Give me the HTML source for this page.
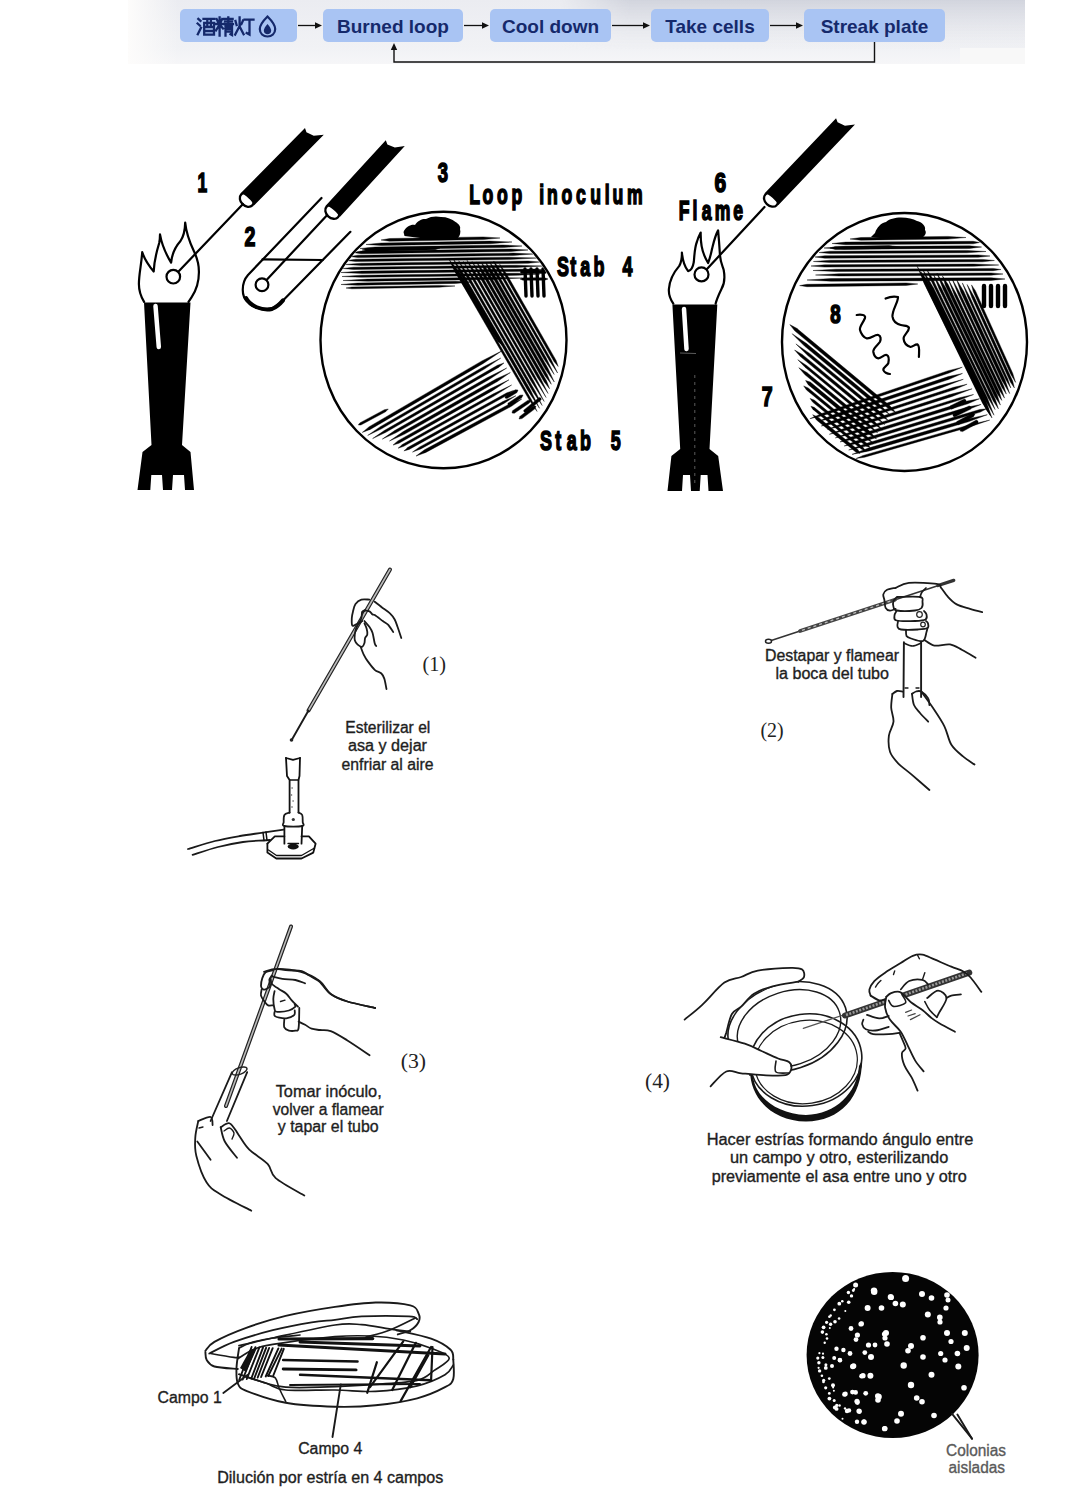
<!DOCTYPE html>
<html><head><meta charset="utf-8">
<style>
html,body{margin:0;padding:0;background:#fff;}
body{width:1080px;height:1489px;overflow:hidden;position:relative;font-family:"Liberation Sans",sans-serif;}
svg{position:absolute;left:0;top:0;display:block;}
.pt{font-family:"Liberation Sans",sans-serif;font-weight:bold;font-size:19px;fill:#15296b;}
.ln{fill:none;stroke:#000;stroke-width:2.2;stroke-linecap:round;stroke-linejoin:round;}
.lb{stroke:#000;stroke-width:1.6;font-family:"Liberation Sans",sans-serif;font-weight:bold;fill:#000;}
.sp{stroke-width:0.3;font-family:"Liberation Sans",sans-serif;fill:#222;}
.sr{font-family:"Liberation Serif",serif;fill:#222;}
.th{fill:none;stroke:#222;stroke-width:1.5;stroke-linecap:round;stroke-linejoin:round;}
</style></head><body>
<svg width="1080" height="1489" viewBox="0 0 1080 1489">
<defs>
<linearGradient id="hg" x1="0" y1="0" x2="0" y2="1">
<stop offset="0" stop-color="#ebecf1"/>
<stop offset="0.75" stop-color="#f1f2f5"/>
<stop offset="1" stop-color="#f6f6f8"/>
</linearGradient>
<linearGradient id="hg2" x1="0" y1="0" x2="0" y2="1">
<stop offset="0" stop-color="#cdd0da" stop-opacity="0.85"/>
<stop offset="1" stop-color="#e6e7ec" stop-opacity="0"/>
</linearGradient>
<linearGradient id="hg3" x1="0" y1="0" x2="1" y2="0">
<stop offset="0" stop-color="#fdfcfb"/>
<stop offset="1" stop-color="#fdfcfb" stop-opacity="0"/>
</linearGradient>
<linearGradient id="hfade" x1="0" y1="0" x2="1" y2="0">
<stop offset="0" stop-color="#fff" stop-opacity="0"/>
<stop offset="0.15" stop-color="#fff" stop-opacity="1"/>
<stop offset="1" stop-color="#fff" stop-opacity="1"/>
</linearGradient>
</defs>
<rect x="128" y="0" width="897" height="64" fill="url(#hg)"/>
<mask id="m2"><rect x="560" y="0" width="465" height="50" fill="url(#hfade)"/></mask>
<rect x="560" y="0" width="465" height="50" fill="url(#hg2)" mask="url(#m2)"/>
<rect x="128" y="0" width="50" height="64" fill="url(#hg3)"/>
<rect x="960" y="48" width="65" height="16" fill="#f8f8f8"/>
<rect x="180" y="9" width="117" height="33" rx="5" fill="#a9c4f3"/>
<rect x="323" y="9" width="140" height="33" rx="5" fill="#a9c4f3"/>
<rect x="490" y="9" width="121" height="33" rx="5" fill="#a9c4f3"/>
<rect x="651" y="9" width="118" height="33" rx="5" fill="#a9c4f3"/>
<rect x="804" y="9" width="141" height="33" rx="5" fill="#a9c4f3"/>
<text x="393" y="32.5" class="pt" text-anchor="middle">Burned loop</text>
<text x="550.5" y="32.5" class="pt" text-anchor="middle">Cool down</text>
<text x="710" y="32.5" class="pt" text-anchor="middle">Take cells</text>
<text x="874.5" y="32.5" class="pt" text-anchor="middle">Streak plate</text>
<line x1="298" y1="25.5" x2="316" y2="25.5" stroke="#111" stroke-width="1.3"/>
<polygon points="322,25.5 315,22.3 315,28.7" fill="#111"/>
<line x1="464" y1="25.5" x2="483" y2="25.5" stroke="#111" stroke-width="1.3"/>
<polygon points="489,25.5 482,22.3 482,28.7" fill="#111"/>
<line x1="612" y1="25.5" x2="644" y2="25.5" stroke="#111" stroke-width="1.3"/>
<polygon points="650,25.5 643,22.3 643,28.7" fill="#111"/>
<line x1="770" y1="25.5" x2="797" y2="25.5" stroke="#111" stroke-width="1.3"/>
<polygon points="803,25.5 796,22.3 796,28.7" fill="#111"/>
<polyline points="874.5,42 874.5,62 394,62 394,49" fill="none" stroke="#111" stroke-width="1.4"/>
<polygon points="394,43 390.8,50 397.2,50" fill="#111"/>
<g fill="none" stroke="#15296b" stroke-width="2.3" stroke-linecap="square"><path d="M198.3,18.8l2.2,2 M197.6,23.5l2.2,2 M197.8,34.2l3.2,-6.5 M203.5,18.8h11 M207.3,18.8v8 M210.9,18.8v8 M204.2,22.8h9.8v11.8h-9.8z M204.5,27h9.5 M204.5,31h9.5"/><path d="M216.6,19l1.2,2.6 M222.2,19l-1.2,2.6 M216,24h7.2 M219.6,17.5v18 M219.6,24.5l-3.6,5.8 M219.6,24.5l3.4,4 M224,19h8.6 M228.3,17.5v6.5 M225,21.6h7 M224,24.2h9 M225.5,26.5v9 M225.5,26.5h6.5v8.5l-1.5,-0.8 M225.5,29h6.5 M225.5,31.6h6.5"/><path d="M235.5,21l1.1,4 M243,20.5l-1.6,3.6 M239.6,17.5v8.5 M239.6,26l-4.4,8.6 M239.6,26.5l4,7.8 M244.5,19.6h9 M249.5,19.6v15l-2.8,-1.6"/></g>
<path d="M267.5,16.5 C262,22 259.8,26 259.8,29 C259.8,33.5 263.2,36.5 267.5,36.5 C271.8,36.5 275.2,33.5 275.2,29 C275.2,26 273,22 267.5,16.5z" fill="none" stroke="#15296b" stroke-width="2.2"/>
<path d="M267.5,24 C265,27 263.8,29 263.8,30.8 C263.8,33 265.5,34.2 267.5,34.2 C269.5,34.2 271.2,33 271.2,30.8 C271.2,29 270,27 267.5,24z" fill="#15296b"/>
<g transform="translate(246.8,199.9) rotate(-45.4)"><ellipse cx="0" cy="0" rx="6" ry="7.8" fill="#fff" stroke="#000" stroke-width="2.3"/><path d="M0,-9 L92,-9 L90,-5 L92.7,2.5999999999999996 L100.5,9 L1,9 C3,6 3,-6 0,-9z" fill="#000"/></g>
<g transform="translate(332.3,211.9) rotate(-47.5)"><ellipse cx="0" cy="0" rx="6" ry="7.8" fill="#fff" stroke="#000" stroke-width="2.3"/><path d="M0,-9 L89,-9 L87,-5 L89.7,2.5999999999999996 L97.5,9 L1,9 C3,6 3,-6 0,-9z" fill="#000"/></g>
<g transform="translate(771,199.8) rotate(-46.5)"><ellipse cx="0" cy="0" rx="6" ry="7.8" fill="#fff" stroke="#000" stroke-width="2.3"/><path d="M0,-9 L104,-9 L102,-5 L104.7,2.5999999999999996 L112.5,9 L1,9 C3,6 3,-6 0,-9z" fill="#000"/></g>
<polygon points="144,302.5 190.5,302.5 182,445 190.5,452 194,490 185,490 184,475 173,475 172,490 163,490 162,475 151.3,475 150.3,490 137.5,490 142.5,452 151.5,445" fill="#000"/>
<path d="M155.5,306 L158.8,347" stroke="#fff" stroke-width="4.5" stroke-linecap="round"/>
<polygon points="672.4,304.5 717.3,304.5 709.5,449 718.2,456 723,491 708.5,491 707.5,475 700.7,475 699.7,491 691,491 690,475 683,475 682,491 667.5,491 671.4,456 680.2,449" fill="#000"/>
<path d="M684,309 L686.5,349" stroke="#fff" stroke-width="4.5" stroke-linecap="round"/>
<line x1="694.8" y1="375" x2="694.8" y2="487" stroke="#fff" stroke-width="0.8" stroke-dasharray="3 4" opacity="0.45"/>
<line x1="680" y1="353" x2="696" y2="353.5" stroke="#fff" stroke-width="0.8" opacity="0.45"/>
<path class="ln" d="M144.1,301.9 C140.5,296 138.9,291 138.9,284 C138.9,274 141.5,264 142.2,252.2 C144.5,259 149,266 153.7,271.5 C154,262 156.5,252 159.2,243 C159.8,240 160,237 160,234.4 C162,246 166.5,255 171.1,262.6 C172,254 176,246 180.5,241 C183.5,236.5 185,230 185.2,222.6 C186.5,236 191,245 194.4,252.2 C197.5,259 199,265 198.9,272 C199,282 196.5,290 191.5,297.4 L188.5,301.9"/>
<path class="ln" d="M673.3,303.7 C669.5,298 668.5,294 668.9,289 C669.5,281 674,272 679.3,265.9 C681.5,262 682,257 681.9,252.6 C682.5,259 684,266 688.1,271.1 C691,270.5 693,267 693.8,262 C694.5,255 694.5,248 697,241.5 C698,238 699.5,235 700.7,232.6 C700.5,242 702,250 704.4,255.6 C705.5,258.5 707,261 708.1,263 C710,258 711,254 712,249 C713.5,243 715,236 718.1,230.4 C719,240 719.5,248 720,255.6 C720.5,262 722.5,266 723.7,270 C724.8,276 725,283 721.5,288.9 C719.5,293 717,298 715.6,303.7"/>
<line class="ln" x1="243" y1="204" x2="179" y2="271" stroke-width="1.8"/>
<circle cx="173.3" cy="276.7" r="6.8" fill="#fff" stroke="#000" stroke-width="2.2"/>
<line class="ln" x1="326.3" y1="216" x2="267" y2="279.5" stroke-width="1.8"/>
<circle cx="262" cy="284.7" r="6.4" fill="#fff" stroke="#000" stroke-width="2.2"/>
<line class="ln" x1="764.5" y1="207" x2="707" y2="269" stroke-width="1.8"/>
<circle cx="701.5" cy="274.4" r="7" fill="#fff" stroke="#000" stroke-width="2.2"/>
<path class="ln" d="M321.5,198 L248,275 C241,283 241,297 248,302 C254,309 266,311 274,307.5 C278,305.5 281,302 283,300.4 L350.4,231.8"/>
<line class="ln" x1="262.5" y1="259.4" x2="322.7" y2="260" stroke-width="1.6"/>
<path d="M246,298 C250,306 262,311 272,309 C277,307 280,304 283,300.4" fill="none" stroke="#000" stroke-width="4" stroke-linecap="round"/>
<ellipse cx="443.5" cy="340" rx="123" ry="128.3" fill="none" stroke="#000" stroke-width="2.4"/>
<ellipse cx="904.5" cy="342" rx="122.5" ry="129" fill="none" stroke="#000" stroke-width="2.4"/>
<clipPath id="cp1"><ellipse cx="443.5" cy="340" rx="121.5" ry="126.8"/></clipPath>
<clipPath id="cp2"><ellipse cx="904.5" cy="342" rx="121" ry="127.5"/></clipPath>
<g clip-path="url(#cp1)">
<path d="M403.5,232 C406,226 412,224 415,225 C418,220 423,218.5 426,219 C431,216 437,216 441,217 C447,217 452,219 455.6,222 C459,224 461,227 460,229 C461,232 460,236 457.8,238 L432,239.5 L404.5,236z" fill="#000"/>
<polygon points="381,240 389.6,241.2 483.1,239.6 500,238 483.1,236.9 389.6,238.5" fill="#000" stroke="#000" stroke-width="0.4" stroke-linejoin="round"/>
<polygon points="366,244.5 381.4,245.5 489.9,243.7 512,242 489.9,241.1 381.3,243" fill="#000" stroke="#000" stroke-width="0.4" stroke-linejoin="round"/>
<polygon points="360,248.5 375.2,249.5 503.2,247.6 522,246 503.2,245 375.1,247" fill="#000" stroke="#000" stroke-width="0.4" stroke-linejoin="round"/>
<polygon points="353,252.5 361,253.7 510.7,251.5 528,250 510.6,249 361,251.1" fill="#000" stroke="#000" stroke-width="0.4" stroke-linejoin="round"/>
<polygon points="350,256.5 358,257.6 513.3,255.5 533,254 513.2,253.1 358,255.2" fill="#000" stroke="#000" stroke-width="0.4" stroke-linejoin="round"/>
<polygon points="347,260.5 355.9,261.6 508.7,259.6 537,258 508.7,257.2 355.9,259.2" fill="#000" stroke="#000" stroke-width="0.4" stroke-linejoin="round"/>
<polygon points="345,264.5 361.1,265.4 528.2,263.3 540,262 528.1,261 361.1,263.2" fill="#000" stroke="#000" stroke-width="0.4" stroke-linejoin="round"/>
<polygon points="343,268.5 353.5,269.5 516.4,267.5 543,266 516.3,265.2 353.5,267.2" fill="#000" stroke="#000" stroke-width="0.4" stroke-linejoin="round"/>
<polygon points="341,272.5 362,273.4 535.6,271.2 545,270 535.5,269 361.9,271.1" fill="#000" stroke="#000" stroke-width="0.4" stroke-linejoin="round"/>
<polygon points="342,276.5 361.4,277.3 517.8,275.3 540,274 517.7,273.2 361.3,275.2" fill="#000" stroke="#000" stroke-width="0.4" stroke-linejoin="round"/>
<polygon points="343,280.5 367.6,281.2 494.4,279.4 522,278 494.3,277.3 367.6,279.1" fill="#000" stroke="#000" stroke-width="0.4" stroke-linejoin="round"/>
<polygon points="341,284.5 357.5,285.3 455.6,283.4 472,282 455.6,281.2 357.5,283.1" fill="#000" stroke="#000" stroke-width="0.4" stroke-linejoin="round"/>
<polygon points="346,288 351.9,288.8 439.1,287.2 455,286 439.1,285.4 351.9,287" fill="#000" stroke="#000" stroke-width="0.4" stroke-linejoin="round"/>
<polygon points="362,250 367.6,251.4 435.2,249.7 440,248 435.1,246.6 367.5,248.3" fill="#000" stroke="#000" stroke-width="0.4" stroke-linejoin="round"/>
<line x1="525" y1="269" x2="526" y2="296" stroke="#000" stroke-width="3.4" stroke-linecap="round"/>
<line x1="531" y1="269" x2="532" y2="296" stroke="#000" stroke-width="3.4" stroke-linecap="round"/>
<line x1="537" y1="269" x2="538" y2="296" stroke="#000" stroke-width="3.4" stroke-linecap="round"/>
<line x1="543" y1="269" x2="544" y2="296" stroke="#000" stroke-width="3.4" stroke-linecap="round"/>
<polygon points="520,272 521.6,273.4 545.5,273.4 548,272 545.5,270.6 521.6,270.6" fill="#000" stroke="#000" stroke-width="0.4" stroke-linejoin="round"/>
<polygon points="520,279 522.9,280.2 544.8,280.2 548,279 544.8,277.8 522.9,277.8" fill="#000" stroke="#000" stroke-width="0.4" stroke-linejoin="round"/>
<polygon points="449.1,259.2 453.5,268.9 529.3,400.1 537.1,411.5 531.1,399 455.3,267.9" fill="#000" stroke="#000" stroke-width="0.4" stroke-linejoin="round"/>
<polygon points="453.4,259.1 459.6,272.5 527.7,390.4 539.5,408.3 530,389.1 461.9,271.2" fill="#000" stroke="#000" stroke-width="0.4" stroke-linejoin="round"/>
<polygon points="458.7,260.7 465.8,275.4 533.1,392 542.2,405.5 535.1,390.9 467.8,274.3" fill="#000" stroke="#000" stroke-width="0.4" stroke-linejoin="round"/>
<polygon points="463.4,261.4 473.5,281.3 531.4,381.7 544.2,401.5 533.4,380.5 475.5,280.2" fill="#000" stroke="#000" stroke-width="0.4" stroke-linejoin="round"/>
<polygon points="467,260.2 473.1,272.9 532.9,376.7 546.1,397.5 534.8,375.7 475,271.8" fill="#000" stroke="#000" stroke-width="0.4" stroke-linejoin="round"/>
<polygon points="472.1,261.4 480.7,278.9 537.7,377.9 548.1,393.5 539.9,376.7 482.9,277.6" fill="#000" stroke="#000" stroke-width="0.4" stroke-linejoin="round"/>
<polygon points="476.7,261.9 481.8,273.4 544.2,381.9 549.6,388.8 546.4,380.6 484,272.1" fill="#000" stroke="#000" stroke-width="0.4" stroke-linejoin="round"/>
<polygon points="481.7,263.1 483.8,269.3 544.9,375.7 551.3,384.3 547.2,374.4 486.1,268" fill="#000" stroke="#000" stroke-width="0.4" stroke-linejoin="round"/>
<polygon points="485.7,262.4 489.1,271.3 545.2,369.1 554.3,382 547.7,367.7 491.6,269.9" fill="#000" stroke="#000" stroke-width="0.4" stroke-linejoin="round"/>
<polygon points="490.2,262.9 492.8,269.8 543.8,358.8 554.2,374.5 546,357.6 494.9,268.6" fill="#000" stroke="#000" stroke-width="0.4" stroke-linejoin="round"/>
<polygon points="493.6,261.1 496.8,268.9 549.5,360.9 557.6,373 551.3,359.8 498.7,267.8" fill="#000" stroke="#000" stroke-width="0.4" stroke-linejoin="round"/>
<polygon points="499.7,264.3 504.2,274.6 554,361.6 558.2,366.5 556.1,360.4 506.3,273.4" fill="#000" stroke="#000" stroke-width="0.4" stroke-linejoin="round"/>
<polygon points="451,262 455.7,273.1 497.6,341.3 502,345 500.7,339.4 458.8,271.2" fill="#000" stroke="#000" stroke-width="0.4" stroke-linejoin="round"/>
<polygon points="358.3,425 360.9,425 385.6,411.8 388.3,409 384.4,409.7 359.8,422.9" fill="#000" stroke="#000" stroke-width="0.4" stroke-linejoin="round"/>
<polygon points="362.3,432.4 370.7,429.2 483.3,363.4 502,350.8 481.9,360.9 369.2,426.7" fill="#000" stroke="#000" stroke-width="0.4" stroke-linejoin="round"/>
<polygon points="367.7,435.4 381.5,428.8 484.4,369.1 500.8,358.1 483.1,367 380.3,426.7" fill="#000" stroke="#000" stroke-width="0.4" stroke-linejoin="round"/>
<polygon points="372.6,438.6 385.9,432.3 498.6,367.4 504,362.9 497.4,365.3 384.7,430.3" fill="#000" stroke="#000" stroke-width="0.4" stroke-linejoin="round"/>
<polygon points="382.3,439.1 396.4,432.6 488.3,380 506.7,368 487,377.8 395.1,430.3" fill="#000" stroke="#000" stroke-width="0.4" stroke-linejoin="round"/>
<polygon points="389.5,441 404.7,434.1 497.4,381.5 510.4,372.5 496,379 403.3,431.6" fill="#000" stroke="#000" stroke-width="0.4" stroke-linejoin="round"/>
<polygon points="393,445.1 399,443.2 492.1,390.9 509,379.8 490.8,388.6 397.8,440.9" fill="#000" stroke="#000" stroke-width="0.4" stroke-linejoin="round"/>
<polygon points="398.1,448.2 403.8,446.3 494,396.1 511.6,385 492.9,394.1 402.7,444.3" fill="#000" stroke="#000" stroke-width="0.4" stroke-linejoin="round"/>
<polygon points="403.9,450.9 409.2,449.4 508,394.8 513.5,390.5 506.9,392.8 408,447.3" fill="#000" stroke="#000" stroke-width="0.4" stroke-linejoin="round"/>
<polygon points="412.5,452.1 420.8,448.9 504.4,403.2 515.9,395.7 503.4,401.3 419.7,446.9" fill="#000" stroke="#000" stroke-width="0.4" stroke-linejoin="round"/>
<polygon points="416,456.1 425.9,452.4 511.8,406.1 521.8,399 510.4,403.5 424.5,449.8" fill="#000" stroke="#000" stroke-width="0.4" stroke-linejoin="round"/>
<polygon points="508,405 509.6,405.8 521.7,397.8 523,395 519.9,395.2 507.9,403.2" fill="#000" stroke="#000" stroke-width="0.4" stroke-linejoin="round"/>
<polygon points="512,413 514.3,413.3 529.4,403 531,400 527.7,400.4 512.5,410.7" fill="#000" stroke="#000" stroke-width="0.4" stroke-linejoin="round"/>
<polygon points="519,419 522,418.6 534.6,409.1 536,406 532.7,406.6 520.1,416.2" fill="#000" stroke="#000" stroke-width="0.4" stroke-linejoin="round"/>
<polygon points="524,412 525.7,412.6 541.2,399.8 541,398 539.2,397.4 523.7,410.2" fill="#000" stroke="#000" stroke-width="0.4" stroke-linejoin="round"/>
<polygon points="505,398 507,398.6 517,392.5 518,390 515.3,389.8 505.4,395.9" fill="#000" stroke="#000" stroke-width="0.4" stroke-linejoin="round"/>
</g><g clip-path="url(#cp2)">
<path d="M875,233 C877,227 881,223 886,222 C889,219 895,217.5 901,217.5 C908,217.5 913,219 917,221 C922,222 926,226 925,230 C927,233 925,236 922,237.7 L880,238 L871,237z" fill="#000"/>
<polygon points="850,239 861,240.2 947.8,239.1 966,237.5 947.8,236.4 860.9,237.5" fill="#000" stroke="#000" stroke-width="0.4" stroke-linejoin="round"/>
<polygon points="832,243.5 845.7,244.7 973.2,243.8 979.5,242.5 973.2,241.3 845.7,242.1" fill="#000" stroke="#000" stroke-width="0.4" stroke-linejoin="round"/>
<polygon points="824,248 843.9,249.2 969.6,248.4 981.6,247 969.5,245.8 843.9,246.6" fill="#000" stroke="#000" stroke-width="0.4" stroke-linejoin="round"/>
<polygon points="819,252.5 830,253.6 966.6,252.8 986,251.5 966.6,250.4 830,251.2" fill="#000" stroke="#000" stroke-width="0.4" stroke-linejoin="round"/>
<polygon points="815,257 824.9,258.2 978.2,257.3 990,256 978.2,254.9 824.9,255.7" fill="#000" stroke="#000" stroke-width="0.4" stroke-linejoin="round"/>
<polygon points="813.4,261.5 830.3,262.6 982.4,261.8 994.4,260.5 982.4,259.4 830.3,260.2" fill="#000" stroke="#000" stroke-width="0.4" stroke-linejoin="round"/>
<polygon points="811,266 824.7,267.1 973.7,266.3 998.7,265 973.7,264 824.7,264.8" fill="#000" stroke="#000" stroke-width="0.4" stroke-linejoin="round"/>
<polygon points="813,270.5 835.8,271.5 993.1,270.7 1001,269.5 993.1,268.4 835.8,269.2" fill="#000" stroke="#000" stroke-width="0.4" stroke-linejoin="round"/>
<polygon points="815.5,275 839,276 991.1,275.2 1003,274 991.1,272.9 839,273.7" fill="#000" stroke="#000" stroke-width="0.4" stroke-linejoin="round"/>
<polygon points="807,280 831.1,281.2 990.9,280.4 1005,279 990.9,277.7 831.1,278.5" fill="#000" stroke="#000" stroke-width="0.4" stroke-linejoin="round"/>
<polygon points="799.6,285.6 807,286.7 906.2,285.4 917.8,284 906.2,282.9 807,284.3" fill="#000" stroke="#000" stroke-width="0.4" stroke-linejoin="round"/>
<polygon points="830,248 835.3,249.5 889.1,248.7 900,247 889,245.6 835.3,246.4" fill="#000" stroke="#000" stroke-width="0.4" stroke-linejoin="round"/>
<line x1="984" y1="286" x2="984" y2="306" stroke="#000" stroke-width="4.4" stroke-linecap="round"/>
<line x1="991" y1="286" x2="991" y2="306" stroke="#000" stroke-width="4.4" stroke-linecap="round"/>
<line x1="998" y1="286" x2="998" y2="306" stroke="#000" stroke-width="4.4" stroke-linecap="round"/>
<line x1="1005" y1="286" x2="1005" y2="306" stroke="#000" stroke-width="4.4" stroke-linecap="round"/>
<polygon points="917.2,266.3 924.2,283.2 986.3,409.7 990.6,415.9 988.3,408.6 926.2,282.1" fill="#000" stroke="#000" stroke-width="0.4" stroke-linejoin="round"/>
<polygon points="922.8,269.4 931.1,289.9 984.4,399 994,415.2 987.2,397.6 933.9,288.5" fill="#000" stroke="#000" stroke-width="0.4" stroke-linejoin="round"/>
<polygon points="927.3,270.3 930.4,279.2 988.3,398.3 995.1,409.6 990.3,397.3 932.4,278.2" fill="#000" stroke="#000" stroke-width="0.4" stroke-linejoin="round"/>
<polygon points="933.4,274.4 939.1,289.1 993.1,400.8 998.4,408.8 995.4,399.6 941.4,288" fill="#000" stroke="#000" stroke-width="0.4" stroke-linejoin="round"/>
<polygon points="936.9,273 943.1,289.3 994.6,396.5 1000.4,405.1 997.3,395.2 945.8,288" fill="#000" stroke="#000" stroke-width="0.4" stroke-linejoin="round"/>
<polygon points="942.5,276.1 945.5,285.8 996.7,393 1001.8,400.4 999.3,391.8 948.2,284.6" fill="#000" stroke="#000" stroke-width="0.4" stroke-linejoin="round"/>
<polygon points="948.3,279.5 954.7,296 999.2,390 1004.5,398.1 1001.5,388.9 956.9,295" fill="#000" stroke="#000" stroke-width="0.4" stroke-linejoin="round"/>
<polygon points="951.8,278.3 957.9,293.8 1001.8,387.2 1006.3,394.1 1003.8,386.3 959.9,292.9" fill="#000" stroke="#000" stroke-width="0.4" stroke-linejoin="round"/>
<polygon points="956.7,279.8 960.9,292.5 1002.1,380.8 1009.7,393.6 1004.9,379.5 963.7,291.2" fill="#000" stroke="#000" stroke-width="0.4" stroke-linejoin="round"/>
<polygon points="962.3,282.9 968,297.7 1005.9,379.8 1010.8,388 1007.8,379 969.8,296.9" fill="#000" stroke="#000" stroke-width="0.4" stroke-linejoin="round"/>
<polygon points="967.1,284.5 972,298.1 1010.4,382.1 1014.4,387.9 1012.7,381.1 974.3,297.1" fill="#000" stroke="#000" stroke-width="0.4" stroke-linejoin="round"/>
<polygon points="971.5,284.9 973.3,291.7 1010.6,374.1 1015.6,382.4 1012.7,373.2 975.4,290.7" fill="#000" stroke="#000" stroke-width="0.4" stroke-linejoin="round"/>
<polygon points="921,272 923.9,282.5 982.4,402.9 992,418 986,401.1 927.5,280.7" fill="#000" stroke="#000" stroke-width="0.4" stroke-linejoin="round"/>
<polygon points="809.9,418.7 823.4,415.4 949,373 962.3,367.2 948.2,370.7 822.6,413.2" fill="#000" stroke="#000" stroke-width="0.4" stroke-linejoin="round"/>
<polygon points="818.9,421.2 832.3,418.3 949.2,379.3 962.5,373.4 948.3,376.6 831.4,415.6" fill="#000" stroke="#000" stroke-width="0.4" stroke-linejoin="round"/>
<polygon points="821.3,426 830,424.4 941,387.9 963.3,379.3 940.2,385.6 829.2,422.1" fill="#000" stroke="#000" stroke-width="0.4" stroke-linejoin="round"/>
<polygon points="827.5,429.4 843.6,425.5 954.5,389.6 967.1,384.2 953.7,387.3 842.8,423.2" fill="#000" stroke="#000" stroke-width="0.4" stroke-linejoin="round"/>
<polygon points="829.4,434.3 846.7,430.1 951.5,396.7 972.1,388.8 950.7,394.3 845.9,427.7" fill="#000" stroke="#000" stroke-width="0.4" stroke-linejoin="round"/>
<polygon points="835.3,437.9 851.9,433.9 960.2,399.8 973.6,394.5 959.5,397.7 851.2,431.7" fill="#000" stroke="#000" stroke-width="0.4" stroke-linejoin="round"/>
<polygon points="840,441.9 852.1,439.6 967.8,403.8 979.5,398.7 967,401.1 851.3,436.9" fill="#000" stroke="#000" stroke-width="0.4" stroke-linejoin="round"/>
<polygon points="844.2,446 856.3,443.7 968.3,409.6 981.1,404.4 967.5,407.1 855.5,441.2" fill="#000" stroke="#000" stroke-width="0.4" stroke-linejoin="round"/>
<polygon points="848.7,450 866.7,446.1 980.4,412.1 986.5,408.8 979.7,409.5 865.9,443.5" fill="#000" stroke="#000" stroke-width="0.4" stroke-linejoin="round"/>
<polygon points="852,454.4 869.2,450.9 968.3,421.8 987.3,414.7 967.5,419 868.4,448.1" fill="#000" stroke="#000" stroke-width="0.4" stroke-linejoin="round"/>
<polygon points="855.8,458.6 864.7,457.2 969.7,426.9 989.7,420.1 969.1,424.9 864.1,455.2" fill="#000" stroke="#000" stroke-width="0.4" stroke-linejoin="round"/>
<polygon points="789.8,324.6 794.7,330.8 887.4,407.8 896.3,413.1 889.4,405.3 796.7,328.3" fill="#000" stroke="#000" stroke-width="0.4" stroke-linejoin="round"/>
<polygon points="792.1,333.7 804.5,346.1 875.9,405.3 890.1,414.9 878,402.8 806.6,343.6" fill="#000" stroke="#000" stroke-width="0.4" stroke-linejoin="round"/>
<polygon points="795.9,343.9 807.8,355.6 881.5,416.7 887.9,420.2 883.3,414.5 809.6,353.4" fill="#000" stroke="#000" stroke-width="0.4" stroke-linejoin="round"/>
<polygon points="794.6,350 800.4,356.6 871.6,415.6 884.8,424.6 873.4,413.3 802.2,354.4" fill="#000" stroke="#000" stroke-width="0.4" stroke-linejoin="round"/>
<polygon points="797.8,359.7 805.1,367.3 872.9,423.4 882.8,430 874.5,421.6 806.6,365.5" fill="#000" stroke="#000" stroke-width="0.4" stroke-linejoin="round"/>
<polygon points="798.8,367.7 805,374.8 864.8,424.1 877.7,432.9 866.6,421.8 806.9,372.5" fill="#000" stroke="#000" stroke-width="0.4" stroke-linejoin="round"/>
<polygon points="805.6,380.5 808.2,384.7 866.4,432.7 876.5,438.9 868.5,430.1 810.3,382.1" fill="#000" stroke="#000" stroke-width="0.4" stroke-linejoin="round"/>
<polygon points="803.7,385.9 806.5,390 864.8,437.9 873.2,443.2 866.4,435.9 808.2,388" fill="#000" stroke="#000" stroke-width="0.4" stroke-linejoin="round"/>
<polygon points="810.1,398.4 812.6,402.1 866.3,446.2 870.1,447.6 867.9,444.2 814.2,400.1" fill="#000" stroke="#000" stroke-width="0.4" stroke-linejoin="round"/>
<polygon points="810.9,406.2 812.7,409.2 861.2,448.9 866.2,451.5 862.7,447 814.2,407.3" fill="#000" stroke="#000" stroke-width="0.4" stroke-linejoin="round"/>
<polygon points="812.7,414.7 816.5,420 856,452.2 860,453.4 858,449.7 818.6,417.5" fill="#000" stroke="#000" stroke-width="0.4" stroke-linejoin="round"/>
<polygon points="950,408 951.6,409.2 965.9,402 966,400 964.3,398.9 950,406" fill="#000" stroke="#000" stroke-width="0.4" stroke-linejoin="round"/>
<polygon points="953,416 954.6,417.1 970.8,409.1 971,407 969.2,405.9 953.1,414" fill="#000" stroke="#000" stroke-width="0.4" stroke-linejoin="round"/>
<polygon points="956,424 958.4,424.7 973.5,416.7 975,414 971.9,413.6 956.8,421.6" fill="#000" stroke="#000" stroke-width="0.4" stroke-linejoin="round"/>
<polygon points="960,431 962.6,431.6 978,423 978,421 976.3,420 960.9,428.5" fill="#000" stroke="#000" stroke-width="0.4" stroke-linejoin="round"/>
</g>
<path class="ln" d="M856.7,315 C861,314 866,315 865,318 C863,323 859,327 860,330 C861,334 864,338 866.7,338.3 C871,339 875,334 878.3,335 C881,336 881,339 880,341.7 C878,345 873,348 873.3,351.7 C874,356 876,358 878.3,358.3 C882,358 884,354 886.7,355 C889,356 889,360 888.3,363.3 C887,366 883,367 883.3,370 C884,372 887,374 890,374" stroke-width="2.4"/>
<path class="ln" d="M885.6,298.6 C889,297 894,296 898,297 C898,303 892,310 892.5,316.7 C893,321 897,324 900.8,325 C904,326 908,325 909,327.8 C909,332 903,335 903.6,338.9 C904,343 907,346 910.6,347 C913,347 915,344 917.5,344.4 C920,346 919,352 918.9,357" stroke-width="2.4"/>
<text transform="translate(198.4,192.2) scale(0.62,1)" x="-1.3" y="0" class="lb" font-size="28">1</text>
<text transform="translate(245.2,246.2) scale(0.7,1)" x="-1.1" y="0" class="lb" font-size="28">2</text>
<text transform="translate(438.6,182) scale(0.66,1)" x="-1.2" y="0" class="lb" font-size="28">3</text>
<text transform="translate(470,204.4) scale(0.64,1)" x="-1.2 19.5 42.2 64.7 108.1 120.3 142.8 165.5 188 210.6 222.7 245.3" y="0" class="lb" font-size="27.5">Loopinoculum</text>
<text transform="translate(557.8,275.5) scale(0.64,1)" x="-1.2 19.5 35.2 55.9 101.1" y="0" class="lb" font-size="28">Stab4</text>
<text transform="translate(540.7,449.5) scale(0.64,1)" x="-1.2 22.7 40.9 61.6 109.4" y="0" class="lb" font-size="28">Stab5</text>
<text transform="translate(715.3,191.5) scale(0.75,1)" x="-1.1" y="0" class="lb" font-size="28">6</text>
<text transform="translate(679.4,220.2) scale(0.64,1)" x="-1.2 20.5 35 55.3 84.1" y="0" class="lb" font-size="27.5">Flame</text>
<text transform="translate(762.4,406) scale(0.7,1)" x="-1.1" y="0" class="lb" font-size="28">7</text>
<text transform="translate(831,323) scale(0.75,1)" x="-1.1" y="0" class="lb" font-size="25">8</text>
<line x1="390" y1="569.5" x2="308.5" y2="710.5" stroke="#222" stroke-width="4" stroke-linecap="round"/>
<line x1="390" y1="569.5" x2="308.5" y2="710.5" stroke="#bbb" stroke-width="1.6" stroke-linecap="round"/>
<path d="M308.5,710.5 L291.7,740" fill="none" stroke="#1a1a1a" stroke-width="1.9" stroke-linecap="round" stroke-linejoin="round"/>
<circle cx="291.5" cy="740" r="1.8" fill="#222"/>
<path d="M369.5,599.6 C368.1,599.6 363.7,598.9 361.4,599.6 C359.1,600.3 356.9,602 355.5,604 C354.1,606 353.6,609.1 353,611.4 C352.4,613.7 351.9,615.7 351.8,618 C351.7,620.3 351.6,624.3 352.2,625.4 C352.8,626.5 354.3,625.2 355.5,624.7 C356.7,624.2 358.2,623.6 359.2,622.5 C360.2,621.4 360.9,619.7 361.4,618 C361.9,616.3 361.6,613.5 362.2,612.2 C362.8,610.9 364.6,610.4 365.1,610" fill="none" stroke="#1a1a1a" stroke-width="1.8" stroke-linecap="round" stroke-linejoin="round"/>
<path d="M362.2,612.2 C362.7,612 363.9,610.8 365.1,610.7 C366.3,610.6 368.3,610.8 369.5,611.4 C370.7,612 371.6,613.8 372.5,614.4 C373.4,615 373,614 374.7,615.1 C376.4,616.2 380.6,619.4 382.8,621 C385,622.6 386.3,622.9 388,624.7 C389.7,626.5 392.3,630.8 393.2,632" fill="none" stroke="#1a1a1a" stroke-width="1.8" stroke-linecap="round" stroke-linejoin="round"/>
<path d="M374.7,601.8 C375.8,602.7 378.8,605 381.4,607 C384,609 388,611.5 390.2,613.6 C392.4,615.7 393.5,617.3 394.7,619.5 C395.9,621.7 396.5,623.9 397.6,627 C398.7,630.1 400.7,636.2 401.3,638" fill="none" stroke="#1a1a1a" stroke-width="1.8" stroke-linecap="round" stroke-linejoin="round"/>
<path d="M362.2,621 C361.6,621.5 359.5,622.8 358.5,624 C357.5,625.2 356.8,626.7 356.2,628.4 C355.6,630.1 355,632.3 354.8,634.3 C354.6,636.3 354.3,638.5 354.8,640.2 C355.3,641.9 356.5,643.6 357.7,644.7 C358.9,645.8 361.1,647.1 362.2,646.9 C363.3,646.6 363.9,644.7 364.4,643.2 C364.9,641.7 364.6,639.5 365.1,638 C365.6,636.5 367.1,635.9 367.3,634.3 C367.6,632.7 367.1,630.2 366.6,628.4 C366.1,626.5 364.8,624.1 364.4,623.2" fill="none" stroke="#1a1a1a" stroke-width="1.8" stroke-linecap="round" stroke-linejoin="round"/>
<path d="M364.4,621 C365.2,622 368.1,625 369.5,627 C370.9,629 371.6,630.1 372.5,632.8 C373.4,635.5 374.1,641 374.7,643.2 C375.3,645.4 375.9,645.5 376.2,646" fill="none" stroke="#1a1a1a" stroke-width="1.8" stroke-linecap="round" stroke-linejoin="round"/>
<path d="M360.7,646.9 C361.2,648.1 362.4,651.8 363.6,654.3 C364.8,656.8 366.1,659 368,661.6 C369.9,664.2 372.5,667.8 374.7,669.8 C376.9,671.8 379.8,672 381.4,673.5 C383,675 383.4,676 384.3,678.6 C385.2,681.2 386.1,687.3 386.5,689" fill="none" stroke="#1a1a1a" stroke-width="1.8" stroke-linecap="round" stroke-linejoin="round"/>
<text x="422.4" y="671" font-family="Liberation Serif" font-size="20" fill="#222" stroke="#222" stroke-width="0" textLength="23.6" lengthAdjust="spacingAndGlyphs">(1)</text>
<text x="345.3" y="732.5" font-family="Liberation Sans" font-size="16" fill="#1e1e1e" stroke="#1e1e1e" stroke-width="0.35" textLength="85" lengthAdjust="spacingAndGlyphs">Esterilizar el</text>
<text x="348" y="751" font-family="Liberation Sans" font-size="16" fill="#1e1e1e" stroke="#1e1e1e" stroke-width="0.35" textLength="79" lengthAdjust="spacingAndGlyphs">asa y dejar</text>
<text x="341.5" y="769.5" font-family="Liberation Sans" font-size="16" fill="#1e1e1e" stroke="#1e1e1e" stroke-width="0.35" textLength="92" lengthAdjust="spacingAndGlyphs">enfriar al aire</text>
<polyline points="286,758 287,776 289.6,780 289.6,812.6" fill="none" stroke="#111" stroke-width="1.8" stroke-linejoin="round" stroke-linecap="round"/>
<polyline points="300,758 299.5,776 298.5,780 298.5,812.6" fill="none" stroke="#111" stroke-width="1.8" stroke-linejoin="round" stroke-linecap="round"/>
<polyline points="286,758 293,759.8 300,758" fill="none" stroke="#111" stroke-width="1.8" stroke-linejoin="round" stroke-linecap="round"/>
<polyline points="289.6,780 298.5,780" fill="none" stroke="#111" stroke-width="1.5" stroke-linejoin="round" stroke-linecap="round"/>
<circle cx="292.1" cy="788" r="0.8" fill="#555"/>
<circle cx="291.5" cy="795" r="0.8" fill="#555"/>
<circle cx="293.1" cy="801" r="0.8" fill="#555"/>
<circle cx="292.0" cy="807" r="0.8" fill="#555"/>
<path d="M289.6,812.6 C288.7,813 285.4,813.4 284.4,815 C283.4,816.6 283.7,820.2 283.7,822 C283.7,823.8 281.3,825.3 284.4,826 C287.5,826.7 299.1,826.7 302.2,826 C305.2,825.3 302.7,823.8 302.7,822 C302.7,820.2 302.9,816.6 302.2,815 C301.5,813.4 299.1,813 298.5,812.6" fill="none" stroke="#1a1a1a" stroke-width="1.8" stroke-linecap="round" stroke-linejoin="round"/>
<polyline points="284.4,826 284.4,843.7" fill="none" stroke="#111" stroke-width="1.8" stroke-linejoin="round" stroke-linecap="round"/>
<polyline points="302.2,826 301.5,843.7" fill="none" stroke="#111" stroke-width="1.8" stroke-linejoin="round" stroke-linecap="round"/>
<circle cx="293.3" cy="819.5" r="1.6" fill="#333"/>
<polyline points="267.4,843.7 274.8,836.3 284.4,836.3" fill="none" stroke="#111" stroke-width="1.8" stroke-linejoin="round" stroke-linecap="round"/>
<polyline points="301.5,836.3 308.9,836.3 315.6,843.7 313.3,852.6 301.5,858.5 276.3,858.5 267.4,852.6 267.4,843.7" fill="none" stroke="#111" stroke-width="1.8" stroke-linejoin="round" stroke-linecap="round"/>
<polyline points="268.5,850 276.5,855.5 301.5,855.5 314.5,848" fill="none" stroke="#111" stroke-width="1.3" stroke-linejoin="round" stroke-linecap="round"/>
<ellipse cx="293.2" cy="846.5" rx="5.5" ry="3" fill="#111"/>
<polyline points="288,843.5 298.5,843.5" fill="none" stroke="#111" stroke-width="1.4" stroke-linejoin="round" stroke-linecap="round"/>
<path d="M188,849 C192.5,847.7 206.3,843.2 215,841 C223.7,838.8 232,837.4 240,836 C248,834.6 255.7,833.7 263,832.6 C270.3,831.5 280.2,830.1 283.7,829.6" fill="none" stroke="#1a1a1a" stroke-width="1.8" stroke-linecap="round" stroke-linejoin="round"/>
<path d="M192.6,854.8 C196.8,853.5 209.6,849.1 218,847 C226.4,844.9 235.5,843.1 243,842 C250.5,840.9 258.5,840.8 263,840.5 C267.5,840.2 268.8,840.1 270,840" fill="none" stroke="#1a1a1a" stroke-width="1.8" stroke-linecap="round" stroke-linejoin="round"/>
<polyline points="263,832.4 264,840.5" fill="none" stroke="#111" stroke-width="1.5" stroke-linejoin="round" stroke-linecap="round"/>
<polyline points="266,832 267,840.3" fill="none" stroke="#111" stroke-width="1.5" stroke-linejoin="round" stroke-linecap="round"/>
<line x1="767.4" y1="641.8" x2="953.7" y2="580.4" stroke="#333" stroke-width="1.6" stroke-linecap="round"/>
<line x1="800" y1="631" x2="895" y2="599.7" stroke="#444" stroke-width="3.8" stroke-linecap="round"/>
<line x1="802" y1="630.3" x2="893" y2="600.3" stroke="#bbb" stroke-width="1.3" stroke-dasharray="3 3"/>
<line x1="938" y1="585.5" x2="953.7" y2="580.4" stroke="#333" stroke-width="3.4" stroke-linecap="round"/>
<ellipse cx="768.5" cy="641.3" rx="3" ry="2" fill="#fff" stroke="#222" stroke-width="1.5"/>
<path d="M895.6,587.8 C897.8,587 902,583.4 908.9,582.8 C915.8,582.1 931.3,583.1 936.7,583.9 C942.1,584.7 939.2,585.7 941.1,587.8 C943,589.9 945.2,593.9 947.8,596.7 C950.4,599.5 953,602.4 956.7,604.4 C960.4,606.4 965.8,607.6 970,608.9 C974.2,610.2 980.2,611.7 982.2,612.2" fill="none" stroke="#1a1a1a" stroke-width="1.8" stroke-linecap="round" stroke-linejoin="round"/>
<path d="M895.6,587.8 C894.1,588.2 888.8,588.9 886.7,590 C884.7,591.1 883.7,592.7 883.3,594.4 C882.9,596.1 884,597.8 884.4,600 C884.8,602.2 884.7,606 885.6,607.8 C886.5,609.6 888.3,610.4 890,610.6 C891.7,610.8 894.7,609.2 895.6,608.9" fill="none" stroke="#1a1a1a" stroke-width="1.8" stroke-linecap="round" stroke-linejoin="round"/>
<path d="M897,597 C896.4,597.7 894.1,599.3 893.5,601 C892.9,602.7 892.9,605.4 893.5,607 C894.1,608.6 893.4,609.9 897,610.5 C900.6,611.1 910.9,610.9 915,610.5 C919.1,610.1 920.2,609.4 921.5,608 C922.8,606.6 922.8,603.8 922.5,602 C922.2,600.2 924.2,597.8 920,597 C915.8,596.2 900.8,597 897,597" fill="none" stroke="#1a1a1a" stroke-width="1.8" stroke-linecap="round" stroke-linejoin="round"/>
<path d="M896.5,611 C896.2,611.8 894.5,613.9 894.5,615.5 C894.5,617.1 893.1,619.6 896.5,620.5 C899.9,621.4 910.2,621.2 915,621 C919.8,620.8 923.6,620.6 925.5,619.5 C927.4,618.4 926.8,615.9 926.5,614.5 C926.2,613.1 924.4,611.6 924,611" fill="none" stroke="#1a1a1a" stroke-width="1.8" stroke-linecap="round" stroke-linejoin="round"/>
<path d="M898,621.5 C897.9,622.3 897,625.2 897.5,626.5 C898,627.8 897.6,629 901,629.5 C904.4,630 913.6,629.8 918,629.5 C922.4,629.2 925.8,629 927.5,628 C929.2,627 928.2,624.7 928,623.5 C927.8,622.3 926.3,621.4 926,621" fill="none" stroke="#1a1a1a" stroke-width="1.8" stroke-linecap="round" stroke-linejoin="round"/>
<path d="M906,630 C906.1,631 905.7,634.6 906.5,636 C907.3,637.4 908.2,637.7 911,638.5 C913.8,639.3 920.4,642.1 923,641 C925.6,639.9 925.8,634.2 926.5,632 C927.2,629.8 927.3,628.7 927.5,628" fill="none" stroke="#1a1a1a" stroke-width="1.8" stroke-linecap="round" stroke-linejoin="round"/>
<path d="M920,597 C920.3,596.2 921,593.5 922,592 C923,590.5 925.3,588.7 926,588" fill="none" stroke="#1a1a1a" stroke-width="1.7" stroke-linecap="round" stroke-linejoin="round"/>
<circle cx="919.5" cy="614.5" r="2.8" fill="none" stroke="#222" stroke-width="1.2"/>
<circle cx="923" cy="624.5" r="2.3" fill="none" stroke="#222" stroke-width="1.2"/>
<path d="M924.4,640 C926.1,640.9 930.1,644.9 934.4,645.6 C938.7,646.3 945.4,643.7 950,644.4 C954.6,645.1 957.9,647.8 962.2,650 C966.5,652.2 973.4,656.5 975.6,657.8" fill="none" stroke="#1a1a1a" stroke-width="1.8" stroke-linecap="round" stroke-linejoin="round"/>
<path d="M903.9,642.2 L903.5,697" fill="none" stroke="#1a1a1a" stroke-width="1.9" stroke-linecap="round" stroke-linejoin="round"/>
<path d="M921.1,642.2 L921.1,697" fill="none" stroke="#1a1a1a" stroke-width="1.9" stroke-linecap="round" stroke-linejoin="round"/>
<path d="M903.9,643 C905.3,643.5 909.6,646 912.5,646 C915.4,646 919.7,643.5 921.1,643" fill="none" stroke="#1a1a1a" stroke-width="1.7" stroke-linecap="round" stroke-linejoin="round"/>
<path d="M905,688 L908,688" fill="none" stroke="#1a1a1a" stroke-width="1.3" stroke-linecap="round" stroke-linejoin="round"/>
<path d="M916,688 L919,688" fill="none" stroke="#1a1a1a" stroke-width="1.3" stroke-linecap="round" stroke-linejoin="round"/>
<path d="M892.4,693.9 C892.2,696.2 891,703.2 891.2,707.8 C891.4,712.4 893.9,717.1 893.5,721.7 C893.1,726.3 889.5,730.6 888.9,735.6 C888.3,740.6 888.5,747.2 890,751.8 C891.5,756.4 894.4,759.4 898.1,763.3 C901.8,767.1 906.8,770.4 912,774.9 C917.2,779.4 926.5,787.5 929.4,790" fill="none" stroke="#1a1a1a" stroke-width="1.8" stroke-linecap="round" stroke-linejoin="round"/>
<path d="M892.4,693.9 C893.2,693.4 895.3,691.4 897,691 C898.7,690.6 901.8,691.5 902.8,691.6" fill="none" stroke="#1a1a1a" stroke-width="1.8" stroke-linecap="round" stroke-linejoin="round"/>
<path d="M912,693.9 C912.7,693.5 914.5,691.9 916,691.5 C917.5,691.1 919.3,690.4 921.3,691.6 C923.3,692.8 926.9,696.3 928.2,698.5 C929.6,700.7 929.2,703.9 929.4,705" fill="none" stroke="#1a1a1a" stroke-width="1.8" stroke-linecap="round" stroke-linejoin="round"/>
<path d="M912,693.9 C912.3,695.8 912.7,701.8 914,705 C915.3,708.2 917.6,710.2 920,713 C922.4,715.8 926.8,720.2 928.2,721.7" fill="none" stroke="#1a1a1a" stroke-width="1.8" stroke-linecap="round" stroke-linejoin="round"/>
<path d="M921.3,691.6 C923.2,694.3 929,702 932.9,707.8 C936.8,713.6 941.3,720.1 944.4,726.3 C947.5,732.5 948.3,739.8 951.4,744.8 C954.5,749.8 959.1,753.1 963,756.4 C966.9,759.7 972.6,763.1 974.5,764.5" fill="none" stroke="#1a1a1a" stroke-width="1.8" stroke-linecap="round" stroke-linejoin="round"/>
<text x="765" y="661.4" font-family="Liberation Sans" font-size="16" fill="#1e1e1e" stroke="#1e1e1e" stroke-width="0.35" textLength="134" lengthAdjust="spacingAndGlyphs">Destapar y flamear</text>
<text x="775.5" y="678.8" font-family="Liberation Sans" font-size="16" fill="#1e1e1e" stroke="#1e1e1e" stroke-width="0.35" textLength="113.5" lengthAdjust="spacingAndGlyphs">la boca del tubo</text>
<text x="760.4" y="736.5" font-family="Liberation Serif" font-size="20" fill="#222" stroke="#222" stroke-width="0" textLength="23.2" lengthAdjust="spacingAndGlyphs">(2)</text>
<line x1="291" y1="926.5" x2="226" y2="1106" stroke="#222" stroke-width="4" stroke-linecap="round"/>
<line x1="291" y1="926.5" x2="226" y2="1106" stroke="#bbb" stroke-width="1.6" stroke-linecap="round"/>
<path d="M264,971.9 C266.2,971.4 270.8,969 277,969 C283.2,969 293.9,969.9 301,971.9 C308.1,973.9 314.7,977.3 319.6,981 C324.6,984.7 326.1,990.6 330.7,994 C335.3,997.4 340,999.2 347.4,1001.5 C354.8,1003.8 370.6,1006.9 375.2,1008" fill="none" stroke="#1a1a1a" stroke-width="1.8" stroke-linecap="round" stroke-linejoin="round"/>
<path d="M272.7,970.4 C271.5,970.7 267.3,971 265.6,972.3 C263.9,973.6 263.1,975.8 262.3,978.1 C261.5,980.4 260.9,984.1 261,986 C261.1,987.9 262.1,988.7 263,989.2 C263.9,989.7 265,989.7 266.2,989.2 C267.4,988.7 269.5,987.6 270,986 C270.5,984.4 269.1,981.1 269.4,979.4 C269.7,977.7 271.6,976.2 272,975.6" fill="none" stroke="#1a1a1a" stroke-width="1.8" stroke-linecap="round" stroke-linejoin="round"/>
<path d="M271.4,976.2 C273.2,976.6 278.4,978.2 282.4,978.8 C286.4,979.4 291.6,979.2 295.4,980 C299.2,980.8 303.5,982.8 305.1,983.3" fill="none" stroke="#1a1a1a" stroke-width="1.8" stroke-linecap="round" stroke-linejoin="round"/>
<path d="M270.7,979.4 C270.9,980.2 270.6,982.4 272,984 C273.4,985.6 276.8,987.6 279.2,989.2 C281.6,990.8 284.2,991.9 286.3,993.7 C288.4,995.5 289.6,998 291.5,1000.2 C293.4,1002.4 296.9,1005.6 298,1006.7" fill="none" stroke="#1a1a1a" stroke-width="1.8" stroke-linecap="round" stroke-linejoin="round"/>
<path d="M261.7,989.2 C261.6,990.3 260.5,993.5 261,995.6 C261.5,997.8 263.7,1000.5 264.9,1002.1 C266.1,1003.7 266.8,1004.9 268.1,1005.4 C269.4,1005.9 271.9,1005.4 272.7,1005.4" fill="none" stroke="#1a1a1a" stroke-width="1.8" stroke-linecap="round" stroke-linejoin="round"/>
<path d="M274.6,991.1 C274.4,992.4 273.3,995.9 273.3,998.9 C273.3,1001.9 274,1007.1 274.6,1009.3 C275.2,1011.4 274.8,1011.6 277.2,1011.8 C279.6,1012 285.9,1011.4 288.9,1010.5 C291.9,1009.6 294.4,1007.7 295.4,1006.7 C296.4,1005.7 294.8,1005 294.7,1004.7" fill="none" stroke="#1a1a1a" stroke-width="1.8" stroke-linecap="round" stroke-linejoin="round"/>
<path d="M274.6,1011.8 C274.6,1012.4 273.8,1014.7 274.6,1015.7 C275.4,1016.7 277.2,1017.3 279.2,1017.7 C281.1,1018.1 283.8,1018.7 286.3,1018.3 C288.8,1017.9 292.7,1016.4 294.1,1015.1 C295.5,1013.8 294.6,1011.3 294.7,1010.5" fill="none" stroke="#1a1a1a" stroke-width="1.8" stroke-linecap="round" stroke-linejoin="round"/>
<path d="M284.3,1019.6 C284.3,1020.9 283.5,1025.6 284.3,1027.4 C285.1,1029.2 287,1030.1 288.9,1030.6 C290.8,1031.1 293.8,1031 295.4,1030.6 C297,1030.2 298,1031.8 298.6,1028 C299.2,1024.2 299.2,1011.3 299.3,1008" fill="none" stroke="#1a1a1a" stroke-width="1.8" stroke-linecap="round" stroke-linejoin="round"/>
<path d="M298.6,1021.6 C299.7,1022.1 302.9,1023.6 305.1,1024.8 C307.3,1026 309.1,1027.8 311.6,1028.7 C314.1,1029.6 316.8,1029.6 320,1030 C323.2,1030.4 326.1,1029.4 330.7,1031.1 C335.3,1032.8 340.9,1036.4 347.4,1040.4 C353.9,1044.4 365.9,1052.7 369.6,1055.2" fill="none" stroke="#1a1a1a" stroke-width="1.8" stroke-linecap="round" stroke-linejoin="round"/>
<path d="M279.2,969 C280.8,969.2 285.1,970.1 288.9,970.4 C292.7,970.7 298.6,970.2 301.8,971 C305,971.8 306.1,973.6 308.3,974.9 C310.5,976.2 312.9,977.6 314.8,978.8 C316.8,980 317.4,979.5 320,982 C322.6,984.5 326.1,990.8 330.7,994 C335.3,997.2 340,999.2 347.4,1001.5 C354.8,1003.8 370.6,1006.9 375.2,1008" fill="none" stroke="#1a1a1a" stroke-width="1.8" stroke-linecap="round" stroke-linejoin="round"/>
<path d="M280.5,1001.5 L285,1000.2" fill="none" stroke="#1a1a1a" stroke-width="1.4" stroke-linecap="round" stroke-linejoin="round"/>
<path d="M232,1072.2 L210.6,1121" fill="none" stroke="#1a1a1a" stroke-width="1.8" stroke-linecap="round" stroke-linejoin="round"/>
<path d="M247.2,1072.2 L226.9,1121" fill="none" stroke="#1a1a1a" stroke-width="1.8" stroke-linecap="round" stroke-linejoin="round"/>
<ellipse cx="239.6" cy="1071" rx="7.8" ry="3.3" transform="rotate(-20 239.6 1071)" fill="none" stroke="#222" stroke-width="1.5"/>
<path d="M198.3,1121 C200.4,1120.3 208.2,1116.3 210.6,1117 C213,1117.7 212.3,1123.7 212.6,1125" fill="none" stroke="#1a1a1a" stroke-width="1.8" stroke-linecap="round" stroke-linejoin="round"/>
<path d="M198.3,1121 C197.8,1123.7 195.6,1131.6 195.3,1137.4 C195,1143.2 194.4,1148.2 196.3,1155.7 C198.2,1163.2 202.4,1175.8 206.5,1182.2 C210.6,1188.7 213.2,1189.7 220.7,1194.4 C228.2,1199.2 246.2,1208 251.3,1210.7" fill="none" stroke="#1a1a1a" stroke-width="1.8" stroke-linecap="round" stroke-linejoin="round"/>
<path d="M220.7,1127.2 C222.1,1126.5 226.5,1122.9 228.9,1123.2 C231.3,1123.5 233.3,1127.3 235,1129.3 C236.7,1131.3 236.6,1132 239,1135.4 C241.4,1138.8 244.5,1144.8 249.3,1149.6 C254.1,1154.3 263.2,1159.2 267.6,1163.9 C272,1168.7 269.6,1172.8 275.7,1178.1 C281.8,1183.4 299.5,1192.6 304.3,1195.5" fill="none" stroke="#1a1a1a" stroke-width="1.8" stroke-linecap="round" stroke-linejoin="round"/>
<path d="M220.7,1127.2 C221.4,1129.6 222.1,1136.4 224.8,1141.5 C227.5,1146.6 235,1155.1 237,1157.8" fill="none" stroke="#1a1a1a" stroke-width="1.8" stroke-linecap="round" stroke-linejoin="round"/>
<path d="M197.3,1141.5 L210.6,1159.8" fill="none" stroke="#1a1a1a" stroke-width="1.8" stroke-linecap="round" stroke-linejoin="round"/>
<path d="M224,1131 C224.9,1130.5 227.8,1127.7 229.5,1128 C231.2,1128.3 233.6,1131.2 234,1133 C234.4,1134.8 232.3,1138 232,1139" fill="none" stroke="#1a1a1a" stroke-width="1.4" stroke-linecap="round" stroke-linejoin="round"/>
<path d="M199,1128 L203,1127" fill="none" stroke="#1a1a1a" stroke-width="1.3" stroke-linecap="round" stroke-linejoin="round"/>
<text x="400.7" y="1068" font-family="Liberation Serif" font-size="20" fill="#222" stroke="#222" stroke-width="0" textLength="25.3" lengthAdjust="spacingAndGlyphs">(3)</text>
<text x="275.7" y="1096.7" font-family="Liberation Sans" font-size="16" fill="#1e1e1e" stroke="#1e1e1e" stroke-width="0.35" textLength="106" lengthAdjust="spacingAndGlyphs">Tomar inóculo,</text>
<text x="272.7" y="1115" font-family="Liberation Sans" font-size="16" fill="#1e1e1e" stroke="#1e1e1e" stroke-width="0.35" textLength="111" lengthAdjust="spacingAndGlyphs">volver a flamear</text>
<text x="277.8" y="1132.3" font-family="Liberation Sans" font-size="16" fill="#1e1e1e" stroke="#1e1e1e" stroke-width="0.35" textLength="100.8" lengthAdjust="spacingAndGlyphs">y tapar el tubo</text>
<path d="M750,1070 C750,1098 772,1121 806,1121.5 C840,1121 862,1098 862,1060 L859,1066 C857,1093 836,1114 806,1115 C776,1114 754,1096 753,1075z" fill="#111"/>
<path d="M750,1060 L750,1075" fill="none" stroke="#1a1a1a" stroke-width="1.9" stroke-linecap="round" stroke-linejoin="round"/>
<ellipse cx="806" cy="1060" rx="56" ry="46" transform="rotate(-8 806 1060)" fill="none" stroke="#1a1a1a" stroke-width="1.6"/>
<ellipse cx="806" cy="1062" rx="51.5" ry="41.5" transform="rotate(-8 806 1062)" fill="none" stroke="#1a1a1a" stroke-width="1.2"/>
<ellipse cx="787.5" cy="1026.7" rx="61" ry="43" transform="rotate(-18 787.5 1026.7)" fill="none" stroke="#1a1a1a" stroke-width="1.6"/>
<ellipse cx="789" cy="1028.5" rx="53" ry="37" transform="rotate(-18 789 1028.5)" fill="none" stroke="#1a1a1a" stroke-width="1.4"/>
<path d="M803.3,1028.3 L843.3,1015" fill="none" stroke="#555" stroke-width="1.3" stroke-linecap="round" stroke-linejoin="round"/>
<line x1="845" y1="1015.5" x2="969.3" y2="972.7" stroke="#333" stroke-width="6" stroke-linecap="round"/>
<line x1="846" y1="1015" x2="968" y2="973" stroke="#999" stroke-width="2.6" stroke-dasharray="2 1.5"/>
<path d="M684.6,1019.6 L702.2,1004.8 L724.4,982.6 L741.1,977 L757.8,970.6 L791.1,967.8 L802.2,969.6 L804,977 L798.5,981.7 L772.6,986.3 L754,993.7 L741.1,1006.7 L731.9,1014 L726.3,1032.6 L724.4,1038 L744.8,1043.7 L761.5,1051 L778.1,1058.5 L789.3,1062.2 L791.1,1069.6 L785.6,1075.2 L763.3,1075.2 L741.1,1073.3 L726.3,1071.5 L710.6,1086.3 L680,1090 L680,1019z" fill="#fff"/>
<path d="M684.6,1019.6 C687.5,1017.1 695.6,1011 702.2,1004.8 C708.8,998.6 717.9,987.2 724.4,982.6 C730.9,978 735.5,979 741.1,977 C746.7,975 749.5,972.1 757.8,970.6 C766.1,969.1 783.7,968 791.1,967.8 C798.5,967.6 800.1,968.1 802.2,969.6 C804.4,971.1 804.6,975 804,977 C803.4,979 799.4,980.9 798.5,981.7" fill="none" stroke="#1a1a1a" stroke-width="1.8" stroke-linecap="round" stroke-linejoin="round"/>
<path d="M798.5,981.7 C794.2,982.5 780,984.3 772.6,986.3 C765.2,988.3 759.2,990.3 754,993.7 C748.8,997.1 744.8,1003.3 741.1,1006.7 C737.4,1010.1 734.4,1009.7 731.9,1014 C729.4,1018.3 727.5,1028.6 726.3,1032.6 C725,1036.6 724.7,1037.1 724.4,1038" fill="none" stroke="#1a1a1a" stroke-width="1.8" stroke-linecap="round" stroke-linejoin="round"/>
<path d="M720.7,1037.2 C724.7,1038.3 738,1041.4 744.8,1043.7 C751.6,1046 756,1048.5 761.5,1051 C767,1053.5 773.5,1056.6 778.1,1058.5 C782.7,1060.4 787.1,1060.4 789.3,1062.2 C791.5,1064 791.7,1067.4 791.1,1069.6 C790.5,1071.8 790.2,1074.3 785.6,1075.2 C781,1076.1 770.7,1075.5 763.3,1075.2 C755.9,1074.9 747.3,1073.9 741.1,1073.3 C734.9,1072.7 731.4,1069.3 726.3,1071.5 C721.2,1073.7 713.2,1083.8 710.6,1086.3" fill="none" stroke="#1a1a1a" stroke-width="1.8" stroke-linecap="round" stroke-linejoin="round"/>
<path d="M776,1061 C776,1062.8 773.8,1070 776,1072 C778.2,1074 786.8,1072.8 789,1073" fill="none" stroke="#1a1a1a" stroke-width="1.6" stroke-linecap="round" stroke-linejoin="round"/>
<path d="M870.6,995.6 C870.4,994.6 868.8,991.9 869.4,989.5 C870,987.1 871.7,983.9 874.3,981.1 C876.9,978.3 880.7,975.7 885.1,972.7 C889.5,969.7 896.1,965.9 900.7,963.1 C905.4,960.2 909.2,957.2 912.8,955.8 C916.4,954.4 918.8,954 922.4,954.6 C926,955.2 929.6,957.4 934.4,959.4 C939.3,961.5 946.5,964.7 951.3,966.7 C956.1,968.7 960.1,969.7 963.3,971.5 C966.5,973.3 967.5,974.1 970.6,977.5 C973.6,980.9 979.6,989.5 981.4,991.9" fill="none" stroke="#1a1a1a" stroke-width="1.8" stroke-linecap="round" stroke-linejoin="round"/>
<path d="M870.6,995.6 C872.1,996.4 876.7,999.8 879.1,1000.4 C881.5,1001 884.1,999.4 885.1,999.2" fill="none" stroke="#1a1a1a" stroke-width="1.8" stroke-linecap="round" stroke-linejoin="round"/>
<path d="M875.5,987.1 C875.9,986.5 877,984.6 877.9,983.5 C878.8,982.4 880.4,981 880.9,980.5" fill="none" stroke="#1a1a1a" stroke-width="1.4" stroke-linecap="round" stroke-linejoin="round"/>
<path d="M886.3,996.8 C888,993 895,991 899.5,991.9 C903,993 905,995 905.6,996.8 L911.6,1002.8 L893,1008 L885,1007z" fill="#fff"/>
<path d="M886.3,996.8 C886.1,998.6 884.5,1003.8 885.1,1007.6 C885.7,1011.4 887.3,1015.6 889.9,1019.6 C892.5,1023.6 897.7,1027.3 900.7,1031.7 C903.7,1036.1 905.6,1041.3 908,1046.1 C910.4,1050.9 912.6,1056.3 915.2,1060.6 C917.8,1064.8 922.2,1069.6 923.6,1071.4" fill="none" stroke="#1a1a1a" stroke-width="1.8" stroke-linecap="round" stroke-linejoin="round"/>
<path d="M886.3,996.8 C887.1,996.2 888.9,993.9 891.1,993.1 C893.3,992.3 897.1,991.3 899.5,991.9 C901.9,992.5 903.5,995 905.6,996.8 C907.6,998.6 908.8,1000.6 911.6,1002.8 C914.4,1005 919,1007.4 922.4,1010 C925.8,1012.6 929.2,1016.2 932,1018.4 C934.8,1020.6 935.4,1021 939.3,1023.2 C943.1,1025.4 952.3,1030.3 954.9,1031.7" fill="none" stroke="#1a1a1a" stroke-width="1.8" stroke-linecap="round" stroke-linejoin="round"/>
<path d="M888.7,1000.4 C889.5,1001.4 890.7,1006 893.5,1006.4 C896.3,1006.8 904.1,1004.8 905.6,1002.8 C907,1000.8 902.5,995.8 901.9,994.4" fill="none" stroke="#1a1a1a" stroke-width="1.6" stroke-linecap="round" stroke-linejoin="round"/>
<path d="M867,1014.8 C869,1015.4 875.5,1018.2 879.1,1018.4 C882.7,1018.6 887.1,1016.4 888.7,1016" fill="none" stroke="#1a1a1a" stroke-width="1.8" stroke-linecap="round" stroke-linejoin="round"/>
<path d="M863.4,1019.6 C863.2,1020.4 861.8,1022.8 862.2,1024.4 C862.6,1026 863.6,1028.3 865.8,1029.3 C868,1030.3 871.7,1030.9 875.5,1030.5 C879.3,1030.1 886.5,1027.5 888.7,1026.8" fill="none" stroke="#1a1a1a" stroke-width="1.8" stroke-linecap="round" stroke-linejoin="round"/>
<path d="M868.2,1031.7 C869,1032.1 869.6,1033.7 873.1,1034.1 C876.5,1034.5 884.3,1034.3 888.7,1034.1 C893.1,1033.9 897.7,1033.1 899.5,1032.9" fill="none" stroke="#1a1a1a" stroke-width="1.8" stroke-linecap="round" stroke-linejoin="round"/>
<path d="M899.5,1032.9 C900.1,1034.3 902.1,1038.7 903.1,1041.3 C904.1,1043.9 905.8,1046.5 905.6,1048.5 C905.4,1050.5 902.1,1050.5 901.9,1053.3 C901.7,1056.1 902.7,1061.4 904.4,1065.4 C906,1069.4 909.4,1073.2 911.6,1077.4 C913.8,1081.6 916.6,1088.4 917.6,1090.6" fill="none" stroke="#1a1a1a" stroke-width="1.8" stroke-linecap="round" stroke-linejoin="round"/>
<path d="M927.2,998 C929,996.8 934.8,990.7 938.1,990.7 C941.3,990.7 946.3,994.4 946.5,998 C946.7,1001.6 940.9,1009.2 939.3,1012.4 C937.7,1015.6 937.3,1016.4 936.8,1017.2" fill="none" stroke="#1a1a1a" stroke-width="1.8" stroke-linecap="round" stroke-linejoin="round"/>
<path d="M924.8,1001.6 C925.6,1003 927.6,1007.4 929.6,1010 C931.6,1012.6 935.6,1016 936.8,1017.2" fill="none" stroke="#1a1a1a" stroke-width="1.6" stroke-linecap="round" stroke-linejoin="round"/>
<path d="M946.5,998 C947.3,997.6 948.9,996.2 951.3,995.6 C953.7,995 959.3,994.6 960.9,994.4" fill="none" stroke="#1a1a1a" stroke-width="1.8" stroke-linecap="round" stroke-linejoin="round"/>
<path d="M900.7,989.5 C902.1,988.1 905.6,982.7 909.2,981.1 C912.8,979.5 919.2,979.3 922.4,979.9 C925.6,980.5 927.4,983.9 928.4,984.7" fill="none" stroke="#1a1a1a" stroke-width="1.6" stroke-linecap="round" stroke-linejoin="round"/>
<path d="M924.8,972.7 L922.4,979.9" fill="none" stroke="#1a1a1a" stroke-width="1.4" stroke-linecap="round" stroke-linejoin="round"/>
<path d="M894.7,970.9 L893.5,974.5" fill="none" stroke="#1a1a1a" stroke-width="1.4" stroke-linecap="round" stroke-linejoin="round"/>
<path d="M917.6,955.2 L919.4,958.8" fill="none" stroke="#1a1a1a" stroke-width="1.4" stroke-linecap="round" stroke-linejoin="round"/>
<path d="M905.6,1012.4 L911.6,1010" fill="none" stroke="#444" stroke-width="1.2" stroke-linecap="round" stroke-linejoin="round"/>
<path d="M908,1016 L915.2,1013.6" fill="none" stroke="#444" stroke-width="1.2" stroke-linecap="round" stroke-linejoin="round"/>
<path d="M910.4,1019.6 L920,1014.8" fill="none" stroke="#444" stroke-width="1.2" stroke-linecap="round" stroke-linejoin="round"/>
<text x="645" y="1088" font-family="Liberation Serif" font-size="20" fill="#222" stroke="#222" stroke-width="0" textLength="25" lengthAdjust="spacingAndGlyphs">(4)</text>
<text x="706.7" y="1145" font-family="Liberation Sans" font-size="16" fill="#1e1e1e" stroke="#1e1e1e" stroke-width="0.35" textLength="266.6" lengthAdjust="spacingAndGlyphs">Hacer estrías formando ángulo entre</text>
<text x="730" y="1163.3" font-family="Liberation Sans" font-size="16" fill="#1e1e1e" stroke="#1e1e1e" stroke-width="0.35" textLength="218.3" lengthAdjust="spacingAndGlyphs">un campo y otro, esterilizando</text>
<text x="711.7" y="1181.7" font-family="Liberation Sans" font-size="16" fill="#1e1e1e" stroke="#1e1e1e" stroke-width="0.35" textLength="255" lengthAdjust="spacingAndGlyphs">previamente el asa entre uno y otro</text>
<path d="M205.4,1350.9 C206.9,1349.4 207.5,1345.8 214.4,1341.9 C221.3,1338 235,1331.9 246.9,1327.6 C258.8,1323.3 271,1319.4 285.7,1315.9 C300.4,1312.5 320,1309.1 335,1306.9 C350,1304.7 363.1,1302.8 375.6,1302.5 C388.2,1302.2 403.1,1303.5 410.3,1305.3 C417.5,1307.1 417.2,1310.8 418.6,1313.6 C420,1316.4 420,1319.2 418.6,1322 C417.2,1324.8 413.8,1328.2 410.3,1330.3 C406.8,1332.4 399.9,1333.7 397.8,1334.4" fill="none" stroke="#1a1a1a" stroke-width="1.9" stroke-linecap="round" stroke-linejoin="round"/>
<path d="M209.3,1353.5 C213.4,1351.6 223.3,1345.8 233.9,1341.9 C244.5,1338 259.8,1333.5 272.8,1330.2 C285.8,1327 301.3,1324.1 311.7,1322.4 C322.1,1320.7 326.7,1320.8 335,1319.8 C343.3,1318.8 349.4,1317 361.7,1316.4 C374,1315.8 399.6,1315.9 408.9,1316.4 C418.1,1316.9 415.8,1318.7 417.2,1319.2" fill="none" stroke="#1a1a1a" stroke-width="1.8" stroke-linecap="round" stroke-linejoin="round"/>
<path d="M205.4,1352.2 C205.6,1353.5 205.2,1357.6 206.7,1360 C208.2,1362.4 209.2,1365 214.4,1366.5 C219.6,1368 233.9,1368.6 237.8,1369" fill="none" stroke="#1a1a1a" stroke-width="1.9" stroke-linecap="round" stroke-linejoin="round"/>
<path d="M210.6,1353.5 C214.5,1354.2 229.2,1356.8 233.9,1357.4 C238.6,1358 238.2,1357.1 239,1357" fill="none" stroke="#1a1a1a" stroke-width="1.7" stroke-linecap="round" stroke-linejoin="round"/>
<path d="M239,1345.7 C244.6,1344.4 256.8,1341.5 272.8,1338 C288.8,1334.5 320.2,1327.2 335,1325 C349.8,1322.8 352.6,1324 361.7,1324.7 C370.8,1325.4 381.3,1327.7 389.4,1328.9 C397.5,1330.1 406.8,1331.2 410.3,1331.7" fill="none" stroke="#1a1a1a" stroke-width="1.7" stroke-linecap="round" stroke-linejoin="round"/>
<path d="M365.8,1337.2 C369.8,1336 381.7,1333.2 390,1330 C398.3,1326.8 411.5,1319.8 415.8,1317.8" fill="none" stroke="#1a1a1a" stroke-width="1.7" stroke-linecap="round" stroke-linejoin="round"/>
<path d="M239,1348.3 C238.6,1351.5 236.7,1362 236.5,1367.8 C236.3,1373.6 236.1,1379.4 237.8,1383.3 C239.5,1387.2 238.9,1387.8 246.9,1391.1 C254.9,1394.3 271,1400.2 285.7,1402.8 C300.4,1405.4 320,1406.3 335,1406.7 C350,1407.1 361.9,1406.7 375.6,1405.3 C389.3,1403.9 405.6,1401.3 417.2,1398.3 C428.8,1395.3 439,1390.4 445,1387.2 C451,1384 451.9,1383.5 453.3,1378.9 C454.7,1374.3 453.3,1362.7 453.3,1359.4" fill="none" stroke="#1a1a1a" stroke-width="1.9" stroke-linecap="round" stroke-linejoin="round"/>
<path d="M239,1348.3 C240.8,1347.4 244.4,1344.7 250,1343 C255.6,1341.3 264.5,1339.3 272.8,1338 C281.1,1336.7 295.5,1335.5 300,1335" fill="none" stroke="#1a1a1a" stroke-width="1.7" stroke-linecap="round" stroke-linejoin="round"/>
<path d="M396.4,1330.3 C402.2,1331.7 422.1,1335.4 431.1,1338.6 C440.1,1341.8 446.9,1346.2 450.6,1349.7 C454.3,1353.2 452.9,1357.8 453.3,1359.4" fill="none" stroke="#1a1a1a" stroke-width="1.9" stroke-linecap="round" stroke-linejoin="round"/>
<path d="M237.8,1358.7 C240.4,1357.2 247.5,1352 253.3,1349.6 C259.1,1347.2 259.2,1346.6 272.8,1344.4 C286.4,1342.2 318.8,1338.1 335,1336.7 C351.2,1335.3 358.6,1335.5 370,1336 C381.4,1336.5 393.1,1338 403.3,1340 C413.5,1342 423.5,1345.3 431.1,1348.3 C438.8,1351.3 448.7,1354.3 449.2,1358 C449.7,1361.7 439.2,1366.9 433.9,1370.6 C428.6,1374.3 426.9,1378 417.2,1380.3 C407.5,1382.6 391.8,1383.2 375.6,1384.4 C359.4,1385.6 335,1386.7 320,1387.2 C305,1387.7 294.6,1387.9 285.7,1387.2 C276.8,1386.5 274.1,1385.5 266.3,1383.3 C258.5,1381.1 243.6,1375.8 239,1374.3" fill="none" stroke="#1a1a1a" stroke-width="1.7" stroke-linecap="round" stroke-linejoin="round"/>
<path d="M239,1374.3 C243.6,1375.8 258.5,1380.7 266.3,1383.3 C274.1,1385.9 274.2,1388.9 285.7,1390 C297.1,1391.1 320,1389.8 335,1390 C350,1390.2 361.9,1392.1 375.6,1391.4 C389.3,1390.7 405.6,1388.6 417.2,1385.8 C428.8,1383 439,1378.2 445,1374.7 C451,1371.2 451.9,1366.6 453.3,1365" fill="none" stroke="#1a1a1a" stroke-width="1.7" stroke-linecap="round" stroke-linejoin="round"/>
<path d="M267.6,1375.6 C268.9,1376 273.4,1375.8 275.4,1378 C277.3,1380.2 277.6,1384.6 279.3,1388.5 C281,1392.4 284.6,1399.3 285.7,1401.5" fill="none" stroke="#1a1a1a" stroke-width="1.6" stroke-linecap="round" stroke-linejoin="round"/>
<path d="M239.2,1380 L251.6,1347" fill="none" stroke="#111" stroke-width="1.9" stroke-linecap="round" stroke-linejoin="round"/>
<path d="M242.7,1379.5 L255.4,1347.2" fill="none" stroke="#111" stroke-width="1.9" stroke-linecap="round" stroke-linejoin="round"/>
<path d="M246.8,1379 L259.4,1347.4" fill="none" stroke="#111" stroke-width="1.9" stroke-linecap="round" stroke-linejoin="round"/>
<path d="M251.3,1378.5 L263,1347.6" fill="none" stroke="#111" stroke-width="1.9" stroke-linecap="round" stroke-linejoin="round"/>
<path d="M254.4,1378 L266.1,1347.8" fill="none" stroke="#111" stroke-width="1.9" stroke-linecap="round" stroke-linejoin="round"/>
<path d="M257.7,1377.5 L269.1,1348" fill="none" stroke="#111" stroke-width="1.9" stroke-linecap="round" stroke-linejoin="round"/>
<path d="M261.1,1377 L272.7,1348.2" fill="none" stroke="#111" stroke-width="1.9" stroke-linecap="round" stroke-linejoin="round"/>
<path d="M265.7,1376.5 L278.4,1348.4" fill="none" stroke="#111" stroke-width="1.9" stroke-linecap="round" stroke-linejoin="round"/>
<path d="M268.2,1376 L281.7,1348.6" fill="none" stroke="#111" stroke-width="1.9" stroke-linecap="round" stroke-linejoin="round"/>
<path d="M273.3,1375.5 L283.8,1348.8" fill="none" stroke="#111" stroke-width="1.9" stroke-linecap="round" stroke-linejoin="round"/>
<path d="M240,1368 L250,1350 L257,1348 L246,1372z" fill="#111"/>
<path d="M279,1339 L372.8,1338.6" fill="none" stroke="#111" stroke-width="3.1" stroke-linecap="round" stroke-linejoin="round"/>
<path d="M279,1345 L445,1354" fill="none" stroke="#111" stroke-width="3.1" stroke-linecap="round" stroke-linejoin="round"/>
<path d="M300,1342 L420,1346" fill="none" stroke="#111" stroke-width="2.9" stroke-linecap="round" stroke-linejoin="round"/>
<path d="M283.2,1360 L357.5,1361.5" fill="none" stroke="#111" stroke-width="2.6" stroke-linecap="round" stroke-linejoin="round"/>
<path d="M283.2,1369 L356.1,1369.9" fill="none" stroke="#111" stroke-width="2.9" stroke-linecap="round" stroke-linejoin="round"/>
<path d="M300,1374.7 L431.1,1380.3" fill="none" stroke="#111" stroke-width="2.4" stroke-linecap="round" stroke-linejoin="round"/>
<path d="M290,1385 L420,1384" fill="none" stroke="#111" stroke-width="1.9" stroke-linecap="round" stroke-linejoin="round"/>
<path d="M367.2,1392.8 L376.9,1362.2" fill="none" stroke="#111" stroke-width="2.2" stroke-linecap="round" stroke-linejoin="round"/>
<path d="M370,1387.2 L403.3,1341.4" fill="none" stroke="#111" stroke-width="2.2" stroke-linecap="round" stroke-linejoin="round"/>
<path d="M392.2,1390 L415.8,1342.8" fill="none" stroke="#111" stroke-width="2.2" stroke-linecap="round" stroke-linejoin="round"/>
<path d="M400.6,1401.1 L431.1,1347" fill="none" stroke="#111" stroke-width="2.2" stroke-linecap="round" stroke-linejoin="round"/>
<path d="M410.3,1387.2 L428.3,1355.3" fill="none" stroke="#111" stroke-width="2.2" stroke-linecap="round" stroke-linejoin="round"/>
<path d="M431.1,1380.3 L432.5,1347" fill="none" stroke="#111" stroke-width="2.2" stroke-linecap="round" stroke-linejoin="round"/>
<path d="M223.3,1393 L247.8,1374.7" fill="none" stroke="#1a1a1a" stroke-width="1.8" stroke-linecap="round" stroke-linejoin="round"/>
<path d="M332.5,1437 L340.8,1384.4" fill="none" stroke="#1a1a1a" stroke-width="1.9" stroke-linecap="round" stroke-linejoin="round"/>
<text x="157.6" y="1402.8" font-family="Liberation Sans" font-size="16" fill="#1e1e1e" stroke="#1e1e1e" stroke-width="0.35" textLength="64.2" lengthAdjust="spacingAndGlyphs">Campo 1</text>
<text x="298.2" y="1454" font-family="Liberation Sans" font-size="16" fill="#1e1e1e" stroke="#1e1e1e" stroke-width="0.35" textLength="64.1" lengthAdjust="spacingAndGlyphs">Campo 4</text>
<text x="217.2" y="1483.2" font-family="Liberation Sans" font-size="16" fill="#1e1e1e" stroke="#1e1e1e" stroke-width="0.35" textLength="226.1" lengthAdjust="spacingAndGlyphs">Dilución por estría en 4 campos</text>
<ellipse cx="892.6" cy="1355" rx="86" ry="83" fill="#050505"/>
<circle cx="905.6" cy="1278.5" r="3.5" fill="#fff"/>
<circle cx="874" cy="1290.6" r="3.2" fill="#fff"/>
<circle cx="855.6" cy="1285" r="2.5" fill="#fff"/>
<circle cx="922" cy="1294" r="3" fill="#fff"/>
<circle cx="931.5" cy="1298" r="2.8" fill="#fff"/>
<circle cx="947" cy="1295" r="2.8" fill="#fff"/>
<circle cx="948" cy="1300" r="2.5" fill="#fff"/>
<circle cx="890.7" cy="1297" r="3" fill="#fff"/>
<circle cx="895.4" cy="1303.5" r="2.8" fill="#fff"/>
<circle cx="902.8" cy="1304.4" r="3" fill="#fff"/>
<circle cx="867.6" cy="1308" r="3" fill="#fff"/>
<circle cx="881.5" cy="1308" r="2.8" fill="#fff"/>
<circle cx="946" cy="1308" r="2.6" fill="#fff"/>
<circle cx="927.8" cy="1314.6" r="3" fill="#fff"/>
<circle cx="939.8" cy="1317.4" r="2.8" fill="#fff"/>
<circle cx="940" cy="1322" r="2.6" fill="#fff"/>
<circle cx="861" cy="1324" r="2.6" fill="#fff"/>
<circle cx="851" cy="1328.5" r="2.4" fill="#fff"/>
<circle cx="857.4" cy="1335" r="2.6" fill="#fff"/>
<circle cx="886" cy="1333" r="3" fill="#fff"/>
<circle cx="885" cy="1338" r="2.6" fill="#fff"/>
<circle cx="923" cy="1337.8" r="2.8" fill="#fff"/>
<circle cx="947" cy="1333" r="3" fill="#fff"/>
<circle cx="964.8" cy="1333" r="3" fill="#fff"/>
<circle cx="951" cy="1341.5" r="2.6" fill="#fff"/>
<circle cx="868.5" cy="1345" r="2.6" fill="#fff"/>
<circle cx="875" cy="1345" r="2.4" fill="#fff"/>
<circle cx="887" cy="1344" r="2.8" fill="#fff"/>
<circle cx="911" cy="1346" r="3" fill="#fff"/>
<circle cx="908" cy="1350.7" r="2.8" fill="#fff"/>
<circle cx="966.7" cy="1348" r="3" fill="#fff"/>
<circle cx="957.4" cy="1353.5" r="2.8" fill="#fff"/>
<circle cx="940.7" cy="1353.5" r="2.6" fill="#fff"/>
<circle cx="945" cy="1360" r="2.6" fill="#fff"/>
<circle cx="923" cy="1357" r="2.8" fill="#fff"/>
<circle cx="871" cy="1357" r="3" fill="#fff"/>
<circle cx="864.8" cy="1352.6" r="2.4" fill="#fff"/>
<circle cx="850" cy="1353.5" r="2.4" fill="#fff"/>
<circle cx="839.8" cy="1360" r="2.2" fill="#fff"/>
<circle cx="903.7" cy="1365.5" r="3.2" fill="#fff"/>
<circle cx="958.3" cy="1366.5" r="3" fill="#fff"/>
<circle cx="852.8" cy="1366.5" r="2.8" fill="#fff"/>
<circle cx="870.4" cy="1375.7" r="3" fill="#fff"/>
<circle cx="863" cy="1375.7" r="2.6" fill="#fff"/>
<circle cx="931.5" cy="1374.8" r="3" fill="#fff"/>
<circle cx="911" cy="1385" r="3.2" fill="#fff"/>
<circle cx="964" cy="1387.8" r="2.8" fill="#fff"/>
<circle cx="845.4" cy="1394" r="2.4" fill="#fff"/>
<circle cx="855.6" cy="1392.4" r="2.4" fill="#fff"/>
<circle cx="877.8" cy="1396" r="2.8" fill="#fff"/>
<circle cx="878" cy="1400" r="2.8" fill="#fff"/>
<circle cx="865.7" cy="1393.3" r="2.4" fill="#fff"/>
<circle cx="916.7" cy="1398" r="2.8" fill="#fff"/>
<circle cx="922" cy="1401.7" r="2.8" fill="#fff"/>
<circle cx="857.4" cy="1402.6" r="2.4" fill="#fff"/>
<circle cx="859" cy="1411" r="2.6" fill="#fff"/>
<circle cx="901" cy="1413.7" r="3" fill="#fff"/>
<circle cx="934" cy="1415.5" r="2.8" fill="#fff"/>
<circle cx="897" cy="1421" r="2.8" fill="#fff"/>
<circle cx="864" cy="1422" r="2.6" fill="#fff"/>
<circle cx="885" cy="1428.5" r="2.6" fill="#fff"/>
<circle cx="847" cy="1411" r="2.2" fill="#fff"/>
<circle cx="874.2" cy="1291.7" r="3.2" fill="#fff"/>
<circle cx="891.3" cy="1297.4" r="2.6" fill="#fff"/>
<circle cx="861.6" cy="1323.7" r="2.4" fill="#fff"/>
<circle cx="856" cy="1339.6" r="2.4" fill="#fff"/>
<circle cx="884.5" cy="1334" r="2.6" fill="#fff"/>
<circle cx="836.5" cy="1348.8" r="2.2" fill="#fff"/>
<circle cx="843.4" cy="1350" r="2.2" fill="#fff"/>
<circle cx="834.2" cy="1358" r="2" fill="#fff"/>
<circle cx="840" cy="1360.2" r="2.2" fill="#fff"/>
<circle cx="832" cy="1365.9" r="2" fill="#fff"/>
<circle cx="853.7" cy="1365.9" r="2.6" fill="#fff"/>
<circle cx="861.6" cy="1376.2" r="2.4" fill="#fff"/>
<circle cx="878.8" cy="1396.7" r="3" fill="#fff"/>
<circle cx="844.5" cy="1394.4" r="2.4" fill="#fff"/>
<circle cx="852.5" cy="1392.1" r="2.4" fill="#fff"/>
<circle cx="857" cy="1401.3" r="2.6" fill="#fff"/>
<circle cx="833" cy="1385.3" r="2" fill="#fff"/>
<circle cx="849" cy="1410.4" r="2.2" fill="#fff"/>
<circle cx="859.4" cy="1411.5" r="2.4" fill="#fff"/>
<circle cx="857" cy="1421.8" r="2.2" fill="#fff"/>
<circle cx="864" cy="1421.8" r="2.6" fill="#fff"/>
<circle cx="884.5" cy="1428.7" r="2.6" fill="#fff"/>
<circle cx="853.3" cy="1290.5" r="1.4" fill="#fff"/>
<circle cx="848.4" cy="1292.5" r="1.7" fill="#fff"/>
<circle cx="842.3" cy="1301.3" r="1.3" fill="#fff"/>
<circle cx="839.3" cy="1303.7" r="1.9" fill="#fff"/>
<circle cx="834.4" cy="1309.8" r="1.4" fill="#fff"/>
<circle cx="830.7" cy="1315.5" r="1.2" fill="#fff"/>
<circle cx="829.4" cy="1316.7" r="1.3" fill="#fff"/>
<circle cx="826.6" cy="1322.3" r="1.6" fill="#fff"/>
<circle cx="823.6" cy="1327.3" r="1.9" fill="#fff"/>
<circle cx="822.4" cy="1332.1" r="1.8" fill="#fff"/>
<circle cx="819.4" cy="1353.2" r="1.1" fill="#fff"/>
<circle cx="817.8" cy="1358.1" r="1.6" fill="#fff"/>
<circle cx="818.9" cy="1362.8" r="1.7" fill="#fff"/>
<circle cx="818.6" cy="1367.8" r="1.1" fill="#fff"/>
<circle cx="819.6" cy="1370.9" r="1.7" fill="#fff"/>
<circle cx="821.9" cy="1375.8" r="1.3" fill="#fff"/>
<circle cx="823.7" cy="1380.3" r="1.6" fill="#fff"/>
<circle cx="823.5" cy="1381.9" r="1.3" fill="#fff"/>
<circle cx="825.7" cy="1387.8" r="1.6" fill="#fff"/>
<circle cx="829.3" cy="1393.4" r="1.4" fill="#fff"/>
<circle cx="829.4" cy="1398.6" r="1.9" fill="#fff"/>
<circle cx="834.8" cy="1407.5" r="1.9" fill="#fff"/>
<circle cx="836.6" cy="1408.9" r="1.9" fill="#fff"/>
<circle cx="842.5" cy="1418.7" r="1" fill="#fff"/>
<circle cx="854.1" cy="1289.2" r="1.1" fill="#fff"/>
<circle cx="851.5" cy="1295.9" r="1.7" fill="#fff"/>
<circle cx="848.7" cy="1302.3" r="1.8" fill="#fff"/>
<circle cx="845.3" cy="1311.1" r="1" fill="#fff"/>
<circle cx="839.1" cy="1318.5" r="1.3" fill="#fff"/>
<circle cx="835" cy="1321.8" r="1.8" fill="#fff"/>
<circle cx="830.6" cy="1324.2" r="1.7" fill="#fff"/>
<circle cx="829.8" cy="1328.1" r="1" fill="#fff"/>
<circle cx="826.4" cy="1334.2" r="1.3" fill="#fff"/>
<circle cx="827" cy="1338.5" r="1.3" fill="#fff"/>
<circle cx="824.7" cy="1342.8" r="1.2" fill="#fff"/>
<circle cx="823" cy="1353.7" r="1.1" fill="#fff"/>
<circle cx="822.9" cy="1357.6" r="1.5" fill="#fff"/>
<circle cx="825.9" cy="1364.7" r="1.5" fill="#fff"/>
<circle cx="825.8" cy="1367.9" r="1.9" fill="#fff"/>
<circle cx="829.3" cy="1378.6" r="1.4" fill="#fff"/>
<circle cx="833.1" cy="1387.6" r="1" fill="#fff"/>
<circle cx="833.9" cy="1390.7" r="1" fill="#fff"/>
<circle cx="834.2" cy="1400.4" r="1.5" fill="#fff"/>
<circle cx="836.8" cy="1405.4" r="1.7" fill="#fff"/>
<circle cx="839.6" cy="1405.5" r="1.2" fill="#fff"/>
<circle cx="845" cy="1408.4" r="1.2" fill="#fff"/>
<path d="M951.9,1413.7 L972,1438.7" fill="none" stroke="#1a1a1a" stroke-width="1.9" stroke-linecap="round" stroke-linejoin="round"/>
<path d="M957.4,1414.6 L972,1438.7" fill="none" stroke="#1a1a1a" stroke-width="1.9" stroke-linecap="round" stroke-linejoin="round"/>
<text x="946" y="1455.8" font-family="Liberation Sans" font-size="16" fill="#5a5a5a" stroke="#5a5a5a" stroke-width="0.35" textLength="60" lengthAdjust="spacingAndGlyphs">Colonias</text>
<text x="948.5" y="1472.7" font-family="Liberation Sans" font-size="16" fill="#5a5a5a" stroke="#5a5a5a" stroke-width="0.35" textLength="56.5" lengthAdjust="spacingAndGlyphs">aisladas</text>
</svg>
</body></html>
